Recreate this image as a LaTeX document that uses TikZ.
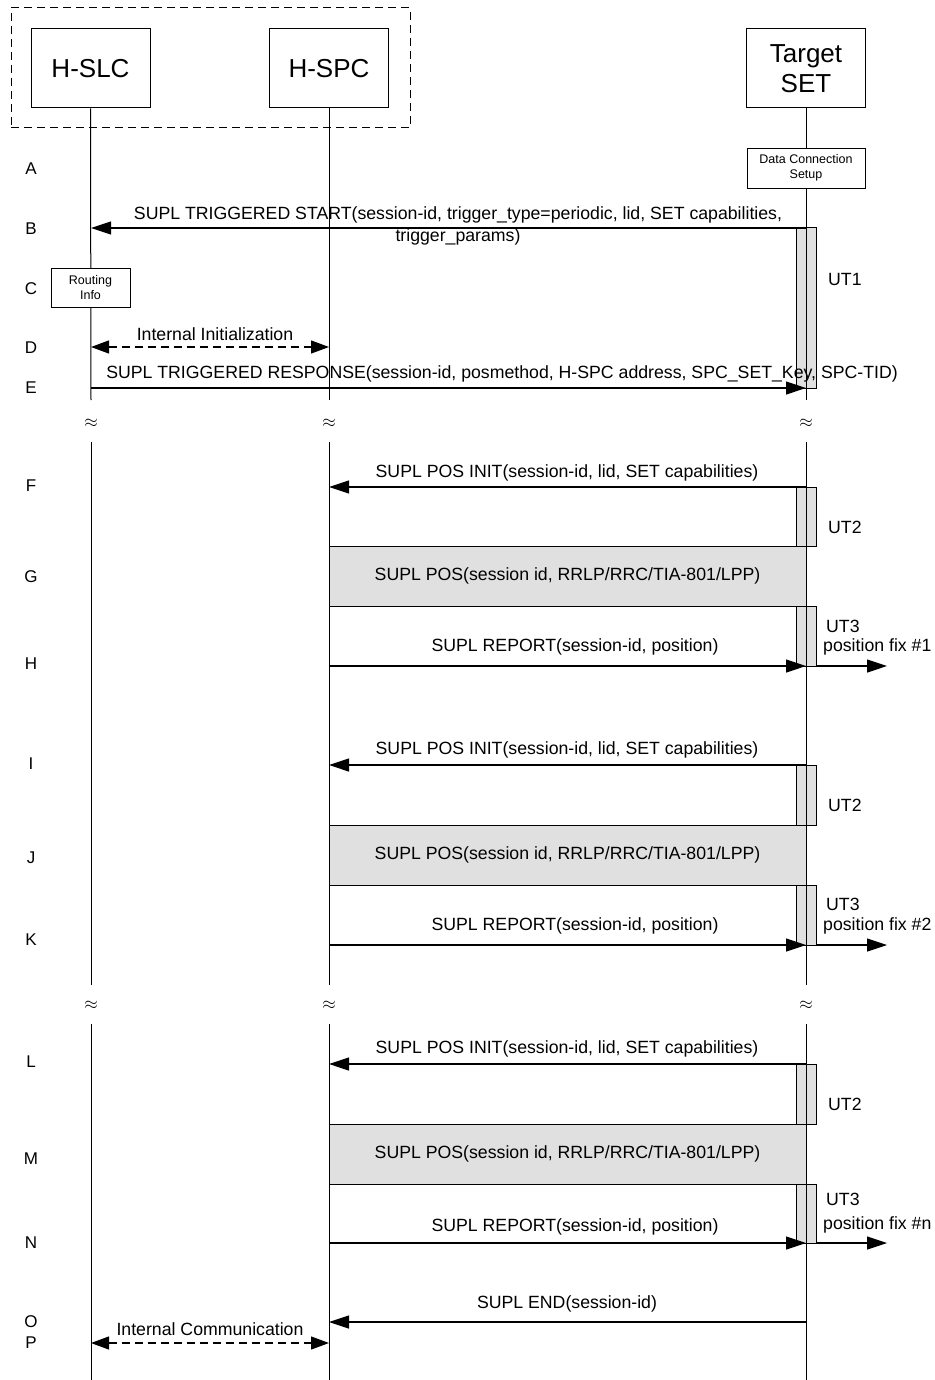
\documentclass[tikz,border=0pt]{standalone}
\usepackage{fontspec}
\setmainfont{Liberation Sans}
\usetikzlibrary{arrows.meta}
\definecolor{boxgray}{RGB}{224,224,224}
\begin{document}
\begin{tikzpicture}[x=1pt,y=-1pt,
  ent/.style={draw,line width=1pt,minimum width=119pt,minimum height=79pt,inner sep=0pt,align=center,font=\fontsize{26}{30}\selectfont},
  small/.style={draw,line width=0.8pt,fill=white,inner sep=0pt,align=center,font=\fontsize{12.5}{15}\selectfont},
  lbl/.style={inner sep=0pt,align=center,font=\fontsize{17.7}{22}\selectfont},
  step letter/.style={inner sep=0pt,font=\fontsize{17}{20}\selectfont},
  timer/.style={draw,line width=1pt,fill=boxgray,minimum width=20pt,inner sep=0pt},
  posbox/.style={draw,line width=1pt,fill=boxgray,minimum width=477pt,minimum height=60pt,inner sep=0pt,font=\fontsize{17.7}{22}\selectfont},
  life/.style={line width=1pt},
  msg/.style={line width=1.2pt,-{Triangle[length=20pt,width=13pt]}},
  dmsg/.style={line width=1.2pt,dash pattern=on 8pt off 5pt,{Triangle[length=18pt,width=13pt]}-{Triangle[length=18pt,width=13pt]}},
  brk/.style={inner sep=0pt,font=\fontsize{18}{20}\selectfont}
]
\useasboundingbox (0,0) rectangle (934,1380);
\fill[white] (0,0) rectangle (934,1380);

% frame and entities
\node[draw,line width=1pt,dash pattern=on 8pt off 5pt,minimum width=399pt,minimum height=120pt,inner sep=0pt] (frame) at (210.5,68) {};
\node[ent] (slc) at (90.5,68.5) {H-SLC};
\node[ent] (spc) at (329,68.5) {H-SPC};
\node[ent] (set) at (806,68.5) {Target\\SET};

% step letters
\foreach \t/\y in {A/169,B/229,C/289,D/348,E/388,F/486,G/577,H/664,I/764,J/858,K/940,L/1062,M/1159,N/1243,O/1322,P/1343}
  \node[step letter] (let\t) at (31,\y) {\t};

% timer boxes and positioning boxes
\node[timer,minimum height=160pt] (ut1) at (806,308) {};
\node[timer,minimum height=59pt] (ut2a) at (806,516.5) {};
\node[timer,minimum height=60pt] (ut3a) at (806,636) {};
\node[timer,minimum height=60pt] (ut2b) at (806,795) {};
\node[timer,minimum height=60pt] (ut3b) at (806,915) {};
\node[timer,minimum height=60pt] (ut2c) at (806,1094) {};
\node[timer,minimum height=59pt] (ut3c) at (806,1213.5) {};
\node[posbox] (posG) at (567.5,576) {SUPL POS(session id, RRLP/RRC/TIA-801/LPP)};
\node[posbox] (posJ) at (567.5,855) {SUPL POS(session id, RRLP/RRC/TIA-801/LPP)};
\node[posbox] (posM) at (567.5,1154) {SUPL POS(session id, RRLP/RRC/TIA-801/LPP)};

% data connection box
\node[small,minimum width=118pt,minimum height=40pt] (dcs) at (806,168) {Data Connection\\Setup};

% lifeline coordinates
\coordinate (slc1) at (91,400); \coordinate (spc1) at (329,400); \coordinate (set1) at (806,400);
\coordinate (slc2t) at (91,442); \coordinate (spc2t) at (329,442); \coordinate (set2t) at (806,442);
\coordinate (slc2) at (91,985); \coordinate (spc2) at (329,985); \coordinate (set2) at (806,985);
\coordinate (slc3t) at (91,1024); \coordinate (spc3t) at (329,1024); \coordinate (set3t) at (806,1024);
\coordinate (slc3) at (91,1380); \coordinate (spc3) at (329,1380); \coordinate (set3) at (806,1380);

\draw[life] (slc.south) -- (slc1);
\draw[life] (spc.south) -- (spc1);
\draw[life] (set.south) -- (dcs.north);
\draw[life] (dcs.south) -- (set1);
\draw[life] (slc2t) -- (slc2); \draw[life] (spc2t) -- (spc2); \draw[life] (set2t) -- (set2);
\draw[life] (slc3t) -- (slc3); \draw[life] (spc3t) -- (spc3); \draw[life] (set3t) -- (set3);

% routing info box (on top of the lifeline)
\node[small,minimum width=79pt,minimum height=39pt] (rout) at (90.5,287.5) {Routing\\Info};

% break marks
\foreach \x/\n in {91/a,329/b,806/c} {
  \node[brk] (brk1\n) at (\x,423) {$\approx$};
  \node[brk] (brk2\n) at (\x,1005) {$\approx$};
}

% message end points
\coordinate (bS) at (806,228); \coordinate (bE) at (91,228);
\coordinate (dS) at (91,347); \coordinate (dE) at (329,347);
\coordinate (eS) at (91,388); \coordinate (eE) at (806,388);
\coordinate (fS) at (806,487); \coordinate (fE) at (329,487);
\coordinate (hS) at (329,666); \coordinate (hE) at (806,666); \coordinate (hX) at (887,666);
\coordinate (iS) at (806,765); \coordinate (iE) at (329,765);
\coordinate (kS) at (329,945); \coordinate (kE) at (806,945); \coordinate (kX) at (887,945);
\coordinate (lS) at (806,1064); \coordinate (lE) at (329,1064);
\coordinate (nS) at (329,1243); \coordinate (nE) at (806,1243); \coordinate (nX) at (887,1243);
\coordinate (oS) at (806,1322); \coordinate (oE) at (329,1322);
\coordinate (pS) at (91,1343); \coordinate (pE) at (329,1343);

% messages
\draw[msg] (bS) -- (bE);
\node[lbl] (bL) at (458,226) {SUPL TRIGGERED START(session-id, trigger\_type=periodic, lid, SET capabilities,\\trigger\_params)};
\draw[dmsg] (dS) -- (dE);
\node[lbl] (dL) at (215,334) {Internal Initialization};
\draw[msg] (eS) -- (eE);
\node[lbl] (eL) at (502,374) {SUPL TRIGGERED RESPONSE(session-id, posmethod, H-SPC address, SPC\_SET\_Key, SPC-TID)};

\draw[msg] (fS) -- (fE);
\node[lbl] (fL) at (567,473) {SUPL POS INIT(session-id, lid, SET capabilities)};
\draw[msg] (hS) -- (hE);
\node[lbl] (hL) at (575,647) {SUPL REPORT(session-id, position)};
\draw[msg] (ut3a.east|-hE) -- (hX);

\draw[msg] (iS) -- (iE);
\node[lbl] (iL) at (567,750) {SUPL POS INIT(session-id, lid, SET capabilities)};
\draw[msg] (kS) -- (kE);
\node[lbl] (kL) at (575,926) {SUPL REPORT(session-id, position)};
\draw[msg] (ut3b.east|-kE) -- (kX);

\draw[msg] (lS) -- (lE);
\node[lbl] (lL) at (567,1049) {SUPL POS INIT(session-id, lid, SET capabilities)};
\draw[msg] (nS) -- (nE);
\node[lbl] (nL) at (575,1227) {SUPL REPORT(session-id, position)};
\draw[msg] (ut3c.east|-nE) -- (nX);

\draw[msg] (oS) -- (oE);
\node[lbl] (oL) at (567,1304) {SUPL END(session-id)};
\draw[dmsg] (pS) -- (pE);
\node[lbl] (pL) at (210,1329) {Internal Communication};

% timer labels
\node[lbl,anchor=west] (ut1L) at (828,279) {UT1};
\node[lbl,anchor=west] (ut2aL) at (828,527) {UT2};
\node[lbl,anchor=west] (ut3aL) at (826,626) {UT3};
\node[lbl,anchor=west] (pf1) at (823,647) {position fix \#1};
\node[lbl,anchor=west] (ut2bL) at (828,805) {UT2};
\node[lbl,anchor=west] (ut3bL) at (826,904) {UT3};
\node[lbl,anchor=west] (pf2) at (823,926) {position fix \#2};
\node[lbl,anchor=west] (ut2cL) at (828,1104) {UT2};
\node[lbl,anchor=west] (ut3cL) at (826,1199) {UT3};
\node[lbl,anchor=west] (pfn) at (823,1225) {position fix \#n};
\end{tikzpicture}
\end{document}
